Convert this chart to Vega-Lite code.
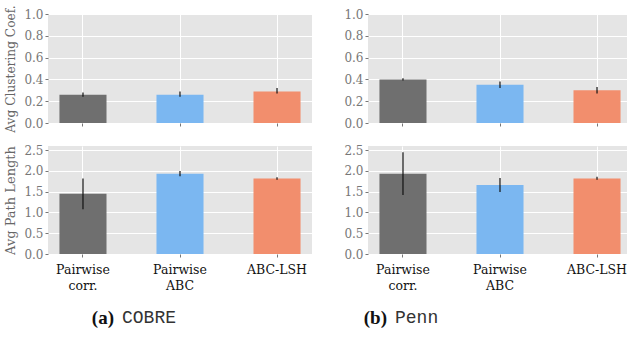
{
  "$schema": "https://vega.github.io/schema/vega-lite/v6.json",
  "padding": {"left": 4, "top": 4, "right": 0, "bottom": 0},
  "bounds": "flush",
  "columns": 2,
  "spacing": {"row": 23, "column": 56},
  "datasets": {
    "bars": [
      {"dataset": "COBRE", "metric": "cc", "method": "Pairwise corr.", "value": 0.26, "lo": 0.24, "hi": 0.28},
      {"dataset": "COBRE", "metric": "cc", "method": "Pairwise ABC", "value": 0.26, "lo": 0.24, "hi": 0.29},
      {"dataset": "COBRE", "metric": "cc", "method": "ABC-LSH", "value": 0.29, "lo": 0.27, "hi": 0.32},
      {"dataset": "COBRE", "metric": "pl", "method": "Pairwise corr.", "value": 1.45, "lo": 1.08, "hi": 1.82},
      {"dataset": "COBRE", "metric": "pl", "method": "Pairwise ABC", "value": 1.93, "lo": 1.87, "hi": 2.0},
      {"dataset": "COBRE", "metric": "pl", "method": "ABC-LSH", "value": 1.82, "lo": 1.79, "hi": 1.85},
      {"dataset": "Penn", "metric": "cc", "method": "Pairwise corr.", "value": 0.40, "lo": 0.39, "hi": 0.41},
      {"dataset": "Penn", "metric": "cc", "method": "Pairwise ABC", "value": 0.35, "lo": 0.32, "hi": 0.38},
      {"dataset": "Penn", "metric": "cc", "method": "ABC-LSH", "value": 0.30, "lo": 0.27, "hi": 0.33},
      {"dataset": "Penn", "metric": "pl", "method": "Pairwise corr.", "value": 1.93, "lo": 1.42, "hi": 2.45},
      {"dataset": "Penn", "metric": "pl", "method": "Pairwise ABC", "value": 1.66, "lo": 1.49, "hi": 1.83},
      {"dataset": "Penn", "metric": "pl", "method": "ABC-LSH", "value": 1.82, "lo": 1.79, "hi": 1.86}
    ],
    "capA": [{"tag": "(a)", "name": "COBRE"}],
    "capB": [{"tag": "(b)", "name": "Penn"}]
  },
  "concat": [
    {
      "width": 264, "height": 109,
      "data": {"name": "bars"},
      "transform": [{"filter": "datum.dataset == 'COBRE' && datum.metric == 'cc'"}],
      "encoding": {
        "x": {"field": "method", "type": "nominal", "sort": ["Pairwise corr.", "Pairwise ABC", "ABC-LSH"], "scale": {"paddingInner": 0.515, "paddingOuter": 0.118}, "axis": {"title": null, "labels": false, "grid": true, "bandPosition": 0.5}}
      },
      "layer": [
        {"mark": {"type": "bar"}, "encoding": {"y": {"field": "value", "type": "quantitative", "scale": {"domain": [0, 1]}, "axis": {"title": "Avg Clustering Coef.", "titleFontSize": 12.2, "values": [0, 0.2, 0.4, 0.6, 0.8, 1.0], "format": ".1f"}}, "color": {"field": "method", "type": "nominal", "scale": {"domain": ["Pairwise corr.", "Pairwise ABC", "ABC-LSH"], "range": ["#6f6f6f", "#7bb7f1", "#f28e6d"]}, "legend": null}}},
        {"mark": {"type": "rule", "color": "#111", "strokeWidth": 1.2}, "encoding": {"y": {"field": "lo", "type": "quantitative", "axis": {"title": "Avg Clustering Coef.", "titleFontSize": 12.2, "values": [0, 0.2, 0.4, 0.6, 0.8, 1.0], "format": ".1f"}}, "y2": {"field": "hi"}}}
      ]
    },
    {
      "width": 264, "height": 109,
      "data": {"name": "bars"},
      "transform": [{"filter": "datum.dataset == 'Penn' && datum.metric == 'cc'"}],
      "encoding": {
        "x": {"field": "method", "type": "nominal", "sort": ["Pairwise corr.", "Pairwise ABC", "ABC-LSH"], "scale": {"paddingInner": 0.515, "paddingOuter": 0.118}, "axis": {"title": null, "labels": false, "grid": true, "bandPosition": 0.5}}
      },
      "layer": [
        {"mark": {"type": "bar"}, "encoding": {"y": {"field": "value", "type": "quantitative", "scale": {"domain": [0, 1]}, "axis": {"title": null, "values": [0, 0.2, 0.4, 0.6, 0.8, 1.0], "format": ".1f"}}, "color": {"field": "method", "type": "nominal", "scale": {"domain": ["Pairwise corr.", "Pairwise ABC", "ABC-LSH"], "range": ["#6f6f6f", "#7bb7f1", "#f28e6d"]}, "legend": null}}},
        {"mark": {"type": "rule", "color": "#111", "strokeWidth": 1.2}, "encoding": {"y": {"field": "lo", "type": "quantitative", "axis": {"title": null, "values": [0, 0.2, 0.4, 0.6, 0.8, 1.0], "format": ".1f"}}, "y2": {"field": "hi"}}}
      ]
    },
    {
      "width": 264, "height": 108,
      "data": {"name": "bars"},
      "transform": [{"filter": "datum.dataset == 'COBRE' && datum.metric == 'pl'"}],
      "encoding": {
        "x": {"field": "method", "type": "nominal", "sort": ["Pairwise corr.", "Pairwise ABC", "ABC-LSH"], "scale": {"paddingInner": 0.515, "paddingOuter": 0.118}, "axis": {"title": null, "grid": true, "bandPosition": 0.5, "labelAngle": 0, "labelExpr": "split(datum.value, ' ')"}}
      },
      "layer": [
        {"mark": {"type": "bar"}, "encoding": {"y": {"field": "value", "type": "quantitative", "scale": {"domain": [0, 2.5]}, "axis": {"title": "Avg Path Length", "values": [0, 0.5, 1.0, 1.5, 2.0, 2.5], "format": ".1f"}}, "color": {"field": "method", "type": "nominal", "scale": {"domain": ["Pairwise corr.", "Pairwise ABC", "ABC-LSH"], "range": ["#6f6f6f", "#7bb7f1", "#f28e6d"]}, "legend": null}}},
        {"mark": {"type": "rule", "color": "#111", "strokeWidth": 1.2}, "encoding": {"y": {"field": "lo", "type": "quantitative", "axis": {"title": "Avg Path Length", "values": [0, 0.5, 1.0, 1.5, 2.0, 2.5], "format": ".1f"}}, "y2": {"field": "hi"}}}
      ]
    },
    {
      "width": 264, "height": 108,
      "data": {"name": "bars"},
      "transform": [{"filter": "datum.dataset == 'Penn' && datum.metric == 'pl'"}],
      "encoding": {
        "x": {"field": "method", "type": "nominal", "sort": ["Pairwise corr.", "Pairwise ABC", "ABC-LSH"], "scale": {"paddingInner": 0.515, "paddingOuter": 0.118}, "axis": {"title": null, "grid": true, "bandPosition": 0.5, "labelAngle": 0, "labelExpr": "split(datum.value, ' ')"}}
      },
      "layer": [
        {"mark": {"type": "bar"}, "encoding": {"y": {"field": "value", "type": "quantitative", "scale": {"domain": [0, 2.5]}, "axis": {"title": null, "values": [0, 0.5, 1.0, 1.5, 2.0, 2.5], "format": ".1f"}}, "color": {"field": "method", "type": "nominal", "scale": {"domain": ["Pairwise corr.", "Pairwise ABC", "ABC-LSH"], "range": ["#6f6f6f", "#7bb7f1", "#f28e6d"]}, "legend": null}}},
        {"mark": {"type": "rule", "color": "#111", "strokeWidth": 1.2}, "encoding": {"y": {"field": "lo", "type": "quantitative", "axis": {"title": null, "values": [0, 0.5, 1.0, 1.5, 2.0, 2.5], "format": ".1f"}}, "y2": {"field": "hi"}}}
      ]
    },
    {
      "width": 264, "height": 82,
      "view": {"fill": null},
      "data": {"name": "capA"},
      "layer": [
        {"mark": {"type": "text", "align": "right", "baseline": "middle", "dx": -66, "font": "Liberation Serif", "fontWeight": "bold", "fontSize": 19, "color": "#111"}, "encoding": {"text": {"field": "tag"}}},
        {"mark": {"type": "text", "align": "left", "baseline": "middle", "dx": -58, "font": "Liberation Mono", "fontSize": 18, "color": "#333"}, "encoding": {"text": {"field": "name"}}}
      ]
    },
    {
      "width": 264, "height": 82,
      "view": {"fill": null},
      "data": {"name": "capB"},
      "layer": [
        {"mark": {"type": "text", "align": "right", "baseline": "middle", "dx": -113, "font": "Liberation Serif", "fontWeight": "bold", "fontSize": 19, "color": "#111"}, "encoding": {"text": {"field": "tag"}}},
        {"mark": {"type": "text", "align": "left", "baseline": "middle", "dx": -105, "font": "Liberation Mono", "fontSize": 18, "color": "#333"}, "encoding": {"text": {"field": "name"}}}
      ]
    }
  ],
  "config": {
    "view": {"fill": "#e5e5e5", "stroke": null},
    "bar": {"opacity": 1},
    "axis": {
      "domain": false,
      "gridColor": "#ffffff",
      "gridWidth": 1,
      "gridOpacity": 1,
      "tickColor": "#777",
      "tickSize": 3,
      "labelOverlap": false,
      "labelFlush": false,
      "labelFont": "DejaVu Serif",
      "labelColor": "#777",
      "labelFontSize": 12,
      "titleFont": "DejaVu Serif",
      "titleFontWeight": "normal",
      "titleColor": "#666",
      "titleFontSize": 13
    },
    "axisX": {"labelColor": "#111", "labelFontSize": 12.5, "labelPadding": 6, "labelLineHeight": 16},
    "axisY": {"titlePadding": 6}
  }
}
